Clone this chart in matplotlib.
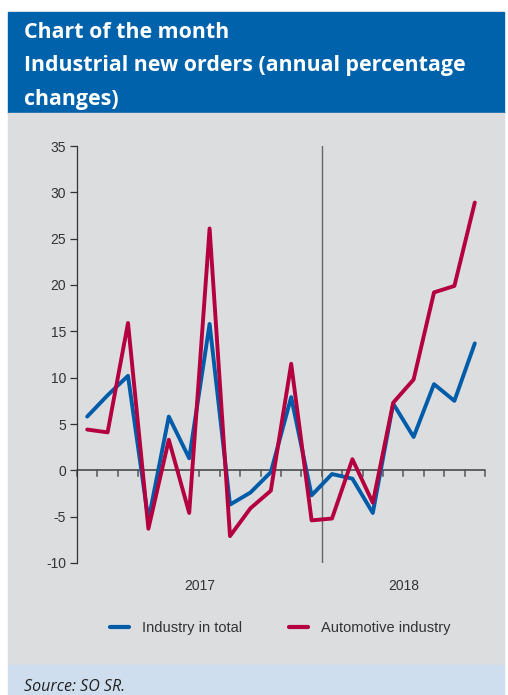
import matplotlib.pyplot as plt
import numpy as np

# monthly data, Jan 2017 - Aug 2018
years = ['2017', '2018']
months_per_year = [12, 8]
industry_total = [5.8, 8.1, 10.2, -5.4, 5.8, 1.3, 15.8, -3.7, -2.4, -0.2,
                  7.9, -2.7, -0.4, -0.9, -4.6, 7.2, 3.6, 9.3, 7.5, 13.7]
automotive = [4.4, 4.1, 15.9, -6.3, 3.3, -4.6, 26.1, -7.1, -4.1, -2.2,
              11.5, -5.4, -5.2, 1.2, -3.5, 7.3, 9.8, 19.2, 19.9, 28.9]
y_ticks = [-10, -5, 0, 5, 10, 15, 20, 25, 30, 35]

header_blue = '#0062ab'
line_blue = '#005ca8'
line_red = '#b4003f'
panel_grey = '#dcdddf'
source_blue = '#cfdeee'

plt.rcParams['axes.unicode_minus'] = False

fig = plt.figure(figsize=(5.08, 6.95), dpi=100)
fig.patch.set_facecolor('white')

# background bands
fig.patches.append(plt.Rectangle((8/508, 1-113/695), 496/508, 101/695,
                                 transform=fig.transFigure, color=header_blue, zorder=-10))
fig.patches.append(plt.Rectangle((8/508, 1-665/695), 496/508, 552/695,
                                 transform=fig.transFigure, color=panel_grey, zorder=-10))
fig.patches.append(plt.Rectangle((8/508, 0), 496/508, 30/695,
                                 transform=fig.transFigure, color=source_blue, zorder=-10))

title_lines = ['Chart of the month', 'Industrial new orders (annual percentage', 'changes)']
for i, line in enumerate(title_lines):
    fig.text(24/508, 1-(32 + 33.5*i)/695, line, color='white', fontsize=15.4,
             fontweight='bold', family='Open Sans', va='center', ha='left')

fig.text(24/508, 1-687/695, 'Source: SO SR.', fontsize=11.5, style='italic',
         family='Open Sans', va='center', ha='left', color='#222222')

ax = fig.add_axes([77/508, 1-563/695, 408/508, 417/695])
ax.set_facecolor('none')

n = len(industry_total)
x = np.arange(n) + 0.5
ax.plot(x, industry_total, color=line_blue, lw=2.8, solid_joinstyle='round',
        solid_capstyle='round', label='Industry in total', zorder=4)
ax.plot(x, automotive, color=line_red, lw=2.8, solid_joinstyle='round',
        solid_capstyle='round', label='Automotive industry', zorder=5)

ax.set_xlim(0, n)
ax.set_ylim(-10, 35)

for side in ['top', 'right', 'bottom']:
    ax.spines[side].set_visible(False)
ax.spines['left'].set_color('#333333')
ax.spines['left'].set_linewidth(0.9)

ax.set_yticks(y_ticks)
ax.tick_params(axis='y', direction='out', length=5, width=0.9, color='#333333',
               labelsize=10, labelcolor='#333333', pad=3)
for lab in ax.get_yticklabels():
    lab.set_family('Liberation Sans')

# zero line with month ticks
ax.axhline(0, color='#555555', lw=1.3, zorder=2)
ax.set_xticks([])
for k in range(n + 1):
    ax.plot([k, k], [0, -0.65], color='#555555', lw=1.1, zorder=2, clip_on=False)

# year separator
ax.axvline(months_per_year[0], color='#666666', lw=1.0, zorder=1)

start = 0
for year, m in zip(years, months_per_year):
    ax.text(start + m / 2, -12.5, year, ha='center', va='center', fontsize=10,
            family='Liberation Sans', color='#333333')
    start += m

leg = fig.legend(loc='center', bbox_to_anchor=(280/508, 1-628/695), ncol=2, frameon=False,
                 prop={'family': ['Liberation Sans Narrow', 'Liberation Sans'], 'size': 10.5},
                 handlelength=1.3, handletextpad=0.9, columnspacing=3.2)
for t in leg.get_texts():
    t.set_color('#333333')
for h in leg.legend_handles:
    h.set_linewidth(3)

fig.savefig('out.png', dpi=100)
